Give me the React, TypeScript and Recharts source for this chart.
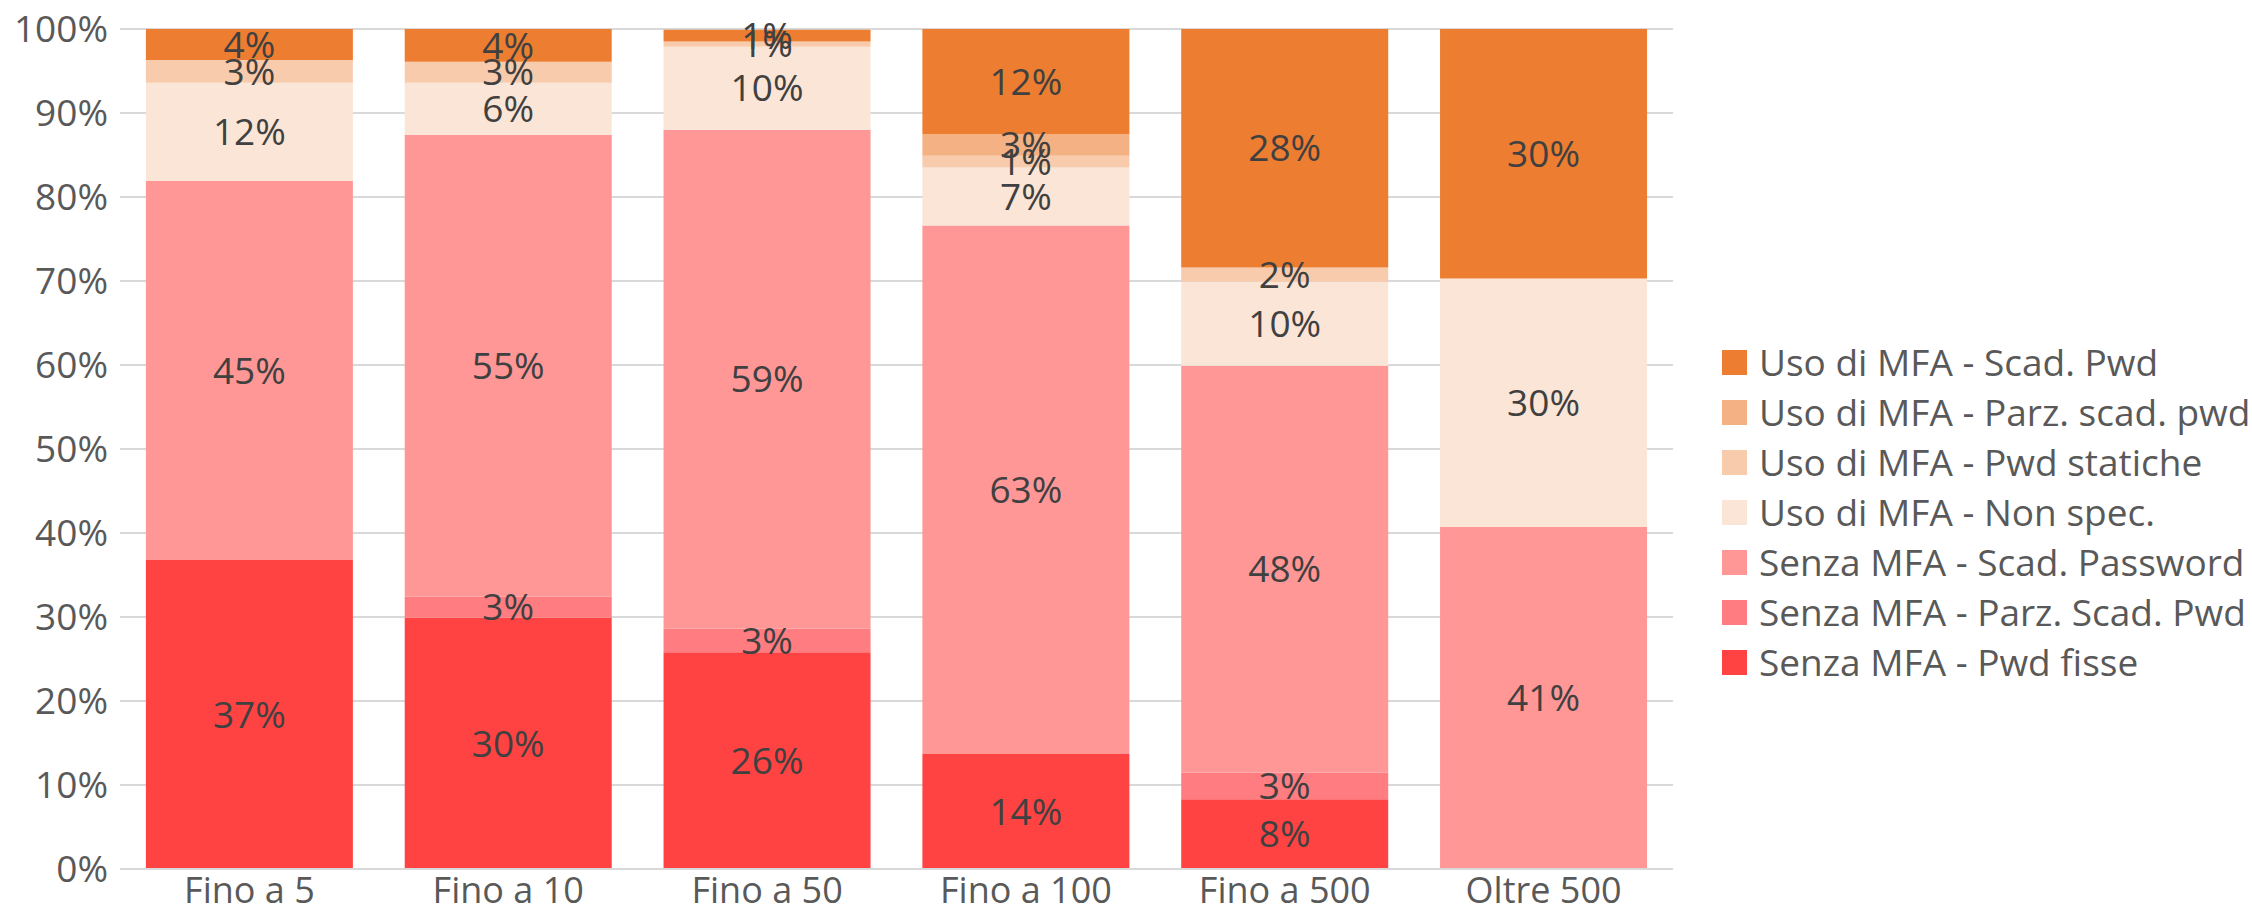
import React from 'react';
import { BarChart, Bar, XAxis, YAxis, CartesianGrid, LabelList } from 'recharts';

const categories = ['Fino a 5', 'Fino a 10', 'Fino a 50', 'Fino a 100', 'Fino a 500', 'Oltre 500'];

// values in %, bottom of the stack first
const pwdFisse = [36.8, 29.9, 25.8, 13.7, 8.3, 0];
const parzScadSenza = [0, 2.5, 2.8, 0, 3.2, 0];
const scadPassword = [45.1, 55.0, 59.4, 62.9, 48.4, 40.7];
const nonSpec = [11.7, 6.2, 9.9, 6.9, 10.0, 29.6];
const pwdStatiche = [2.7, 2.5, 0.6, 1.4, 1.7, 0];
const parzScadMfa = [0, 0, 0, 2.6, 0, 0];
const scadPwd = [3.7, 3.9, 1.4, 12.49, 28.4, 29.7];

const yTicks = [0, 10, 20, 30, 40, 50, 60, 70, 80, 90, 100];

const series = [
  { key: 'pwdFisse', name: 'Senza MFA - Pwd fisse', color: '#FF4343', values: pwdFisse },
  { key: 'parzScadSenza', name: 'Senza MFA - Parz. Scad. Pwd', color: '#FF7C80', values: parzScadSenza },
  { key: 'scadPassword', name: 'Senza MFA - Scad. Password', color: '#FF9797', values: scadPassword },
  { key: 'nonSpec', name: 'Uso di MFA - Non spec.', color: '#FBE5D6', values: nonSpec },
  { key: 'pwdStatiche', name: 'Uso di MFA - Pwd statiche', color: '#F8CBAD', values: pwdStatiche },
  { key: 'parzScadMfa', name: 'Uso di MFA - Parz. scad. pwd', color: '#F4B183', values: parzScadMfa },
  { key: 'scadPwd', name: 'Uso di MFA - Scad. Pwd', color: '#ED7D31', values: scadPwd },
];

const data = categories.map((c, i) => {
  const row: any = { name: c };
  series.forEach(s => { row[s.key] = s.values[i]; });
  return row;
});

const FONT = '"Open Sans", "Liberation Sans", sans-serif';

const fmt = (v: any) => (v && v > 0 ? `${Math.round(v)}%` : '');

export default function App() {
  return (
    <div style={{ position: 'absolute', left: 0, top: 0, width: 2252, height: 914, background: '#fff' }}>
      <BarChart
        width={2252}
        height={914}
        data={data}
        margin={{ top: 29, right: 579, bottom: 0, left: 0 }}
        barCategoryGap="10%"
      >
        <CartesianGrid vertical={false} stroke="#D9D9D9" strokeWidth={2} />
        <XAxis
          dataKey="name"
          height={45}
          axisLine={{ stroke: '#D9D9D9', strokeWidth: 2 }}
          tickLine={false}
          tick={{ fill: '#595959', fontSize: 36, fontFamily: FONT }}
          dy={0}
        />
        <YAxis
          width={120}
          domain={[0, 100]}
          ticks={yTicks}
          interval={0}
          allowDataOverflow
          axisLine={false}
          tickLine={false}
          tickFormatter={(v: number) => `${v}%`}
          tick={{ fill: '#595959', fontSize: 37, fontFamily: FONT }}
          dx={-4}
        />
        {series.map(s => (
          <Bar key={s.key} dataKey={s.key} name={s.name} stackId="a" fill={s.color} isAnimationActive={false}>
            <LabelList
              dataKey={s.key}
              position="center"
              formatter={fmt}
              style={{ fill: '#404040', fontSize: 37, fontFamily: FONT }}
            />
          </Bar>
        ))}
      </BarChart>
      <div style={{ position: 'absolute', left: 1722, top: 337, fontFamily: FONT, fontSize: 37, color: '#595959' }}>
        {[...series].reverse().map(s => (
          <div key={s.key} style={{ display: 'flex', alignItems: 'center', height: 50, whiteSpace: 'nowrap' }}>
            <span style={{ display: 'inline-block', width: 25, height: 25, background: s.color, marginRight: 12 }} />
            <span style={{ lineHeight: '50px' }}>{s.name}</span>
          </div>
        ))}
      </div>
    </div>
  );
}
